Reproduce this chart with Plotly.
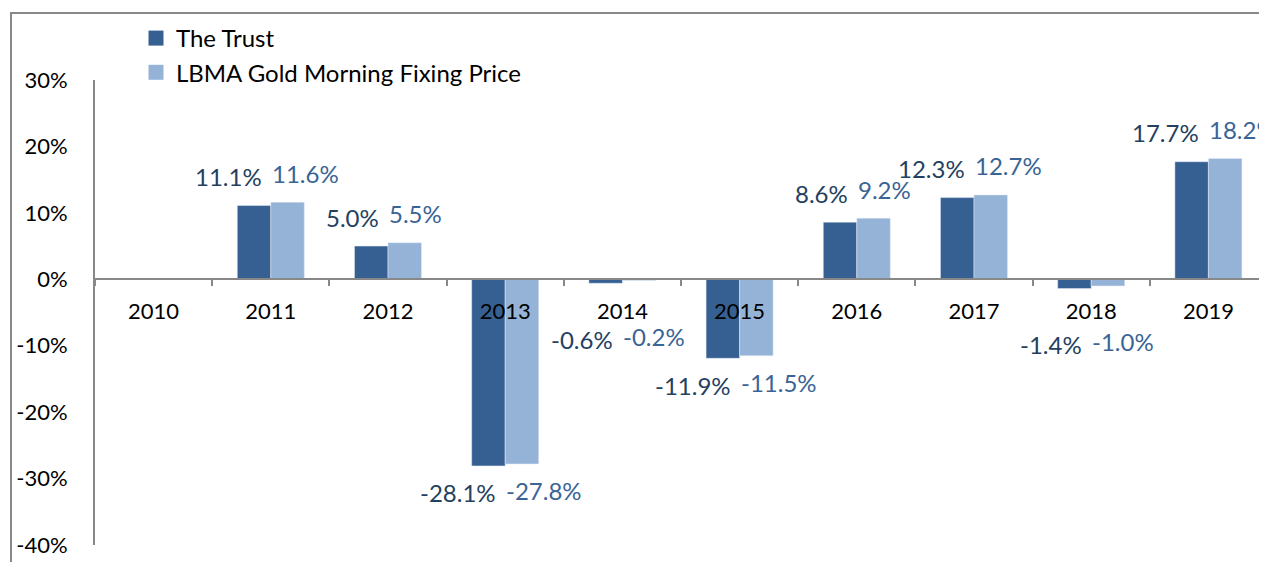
import plotly.graph_objects as go

years = ["2010", "2011", "2012", "2013", "2014", "2015", "2016", "2017", "2018", "2019"]
trust = [None, 11.1, 5.0, -28.1, -0.6, -11.9, 8.6, 12.3, -1.4, 17.7]
lbma = [None, 11.6, 5.5, -27.8, -0.2, -11.5, 9.2, 12.7, -1.0, 18.2]
y_ticks = [30, 20, 10, 0, -10, -20, -30, -40]
y_ticktext = [f"{v}%" for v in y_ticks]

FONT = "Lato"
C_TRUST = "#376092"
C_LBMA = "#95B3D7"
C_TRUST_LBL = "#243F60"
C_LBMA_LBL = "#3A6496"
GRAY = "#888888"

# page body margin offset (browser default 8px)
OFF = 8

fig = go.Figure()
fig.add_trace(go.Bar(x=years, y=trust, name="The Trust", marker_color=C_TRUST, showlegend=False))
fig.add_trace(go.Bar(x=years, y=lbma, name="LBMA Gold Morning Fixing Price", marker_color=C_LBMA,
                     showlegend=False))
# legend entries with square swatches
fig.add_trace(go.Scatter(x=[None], y=[None], mode="markers", name="The Trust",
                         marker=dict(symbol="square", size=15, color=C_TRUST)))
fig.add_trace(go.Scatter(x=[None], y=[None], mode="markers", name="LBMA Gold Morning Fixing Price",
                         marker=dict(symbol="square", size=15, color=C_LBMA)))

def yshift_for(v):
    if v >= 0:
        return 29
    if v > -3:
        return -56
    return -27

annotations = []
for i, (yr, a, b) in enumerate(zip(years, trust, lbma)):
    if a is not None:
        annotations.append(dict(x=i, y=a, xref="x", yref="y", text=f"{a:.1f}%", showarrow=False,
                                xanchor="right", yanchor="middle", xshift=-7, yshift=yshift_for(a),
                                font=dict(family=FONT, size=24, color=C_TRUST_LBL)))
    if b is not None:
        annotations.append(dict(x=i, y=b, xref="x", yref="y", text=f"{b:.1f}%", showarrow=False,
                                xanchor="left", yanchor="middle", xshift=-1, yshift=yshift_for(b),
                                font=dict(family=FONT, size=24, color=C_LBMA_LBL)))

W, H = 1267 - OFF, 562 - OFF
L, R, T, B = 95 - OFF, 0, 80 - OFF, 17
pw, ph = W - L - R, H - T - B

def px_to_paper_x(px):
    return (px - OFF - L) / pw

def px_to_paper_y(py):
    return (H - B - (py - OFF)) / ph

fig.update_layout(
    width=W, height=H,
    margin=dict(l=L, r=R, t=T, b=B, pad=0, autoexpand=False),
    paper_bgcolor="white", plot_bgcolor="white",
    barmode="group", bargap=0.428, bargroupgap=0,
    font=dict(family=FONT, size=22, color="black"),
    showlegend=True,
    legend=dict(x=px_to_paper_x(136), y=px_to_paper_y(16), xanchor="left", yanchor="top",
                bgcolor="rgba(0,0,0,0)", font=dict(family=FONT, size=24, color="black"),
                tracegroupgap=0, itemwidth=30),
    xaxis=dict(type="category", categoryorder="array", categoryarray=years,
               range=[-0.5, len(years) - 0.5], autorange=False,
               anchor="free", position=px_to_paper_y(279),
               showline=True, linecolor=GRAY, linewidth=2,
               ticks="outside", tickson="boundaries", ticklen=6, tickcolor=GRAY, tickwidth=2,
               ticklabelstandoff=13, tickangle=0, showgrid=False, zeroline=False,
               tickfont=dict(family=FONT, size=22, color="black")),
    yaxis=dict(range=[-40, 30], autorange=False, tickvals=y_ticks, ticktext=y_ticktext,
               showline=True, linecolor=GRAY, linewidth=2, ticks="",
               showgrid=False, zeroline=False, ticklabelstandoff=21,
               tickfont=dict(family=FONT, size=22, color="black")),
    annotations=annotations,
    shapes=[dict(type="rect", xref="paper", yref="paper",
                 x0=px_to_paper_x(11), x1=px_to_paper_x(1290),
                 y0=px_to_paper_y(600), y1=px_to_paper_y(13),
                 line=dict(color=GRAY, width=2), fillcolor="rgba(0,0,0,0)", layer="below")],
)

fig.write_html("out.html")
